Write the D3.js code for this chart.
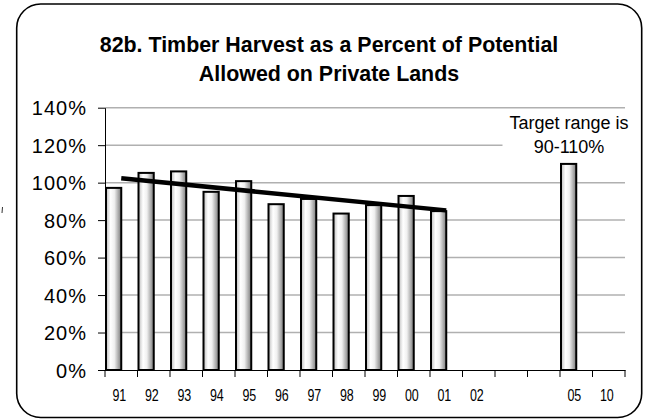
<!DOCTYPE html>
<html>
<head>
<meta charset="utf-8">
<script src="https://cdn.jsdelivr.net/npm/d3@7"></script>
<style>
  html, body { margin: 0; padding: 0; background: #fff; }
  svg { display: block; font-family: "Liberation Sans", Arial, sans-serif; }
</style>
</head>
<body>
<svg id="chart" width="646" height="420"></svg>
<script>
// ---- data ----
const categories = ["91","92","93","94","95","96","97","98","99","00","01","02","03","04","05","10"];
const categoryLabels = ["91","92","93","94","95","96","97","98","99","00","01","02","","","05","10"];
const harvestPercent = [97.2,105.2,106,95.1,100.8,88.5,91.3,83.5,88,92.9,84.8,null,null,null,110,null];
const trendCategories = ["91","01"];
const trendValues = [102.3, 85.2];
const yTicks = [0,20,40,60,80,100,120,140];
const titleLines = ["82b. Timber Harvest as a Percent of Potential","Allowed on Private Lands"];
const noteLines = ["Target range is","90-110%"];

(function () {
const svg = d3.select("#chart");
const plotLeft = 105, plotRight = 625, plotTop = 107.7, plotBottom = 370;

const x = d3.scaleBand().domain(categories).range([plotLeft, plotRight]).padding(0);
const y = d3.scaleLinear().domain([0, 140]).range([plotBottom, plotTop]);

// gradient
const defs = svg.append("defs");
const g = defs.append("linearGradient").attr("id","barGrad").attr("x1","0%").attr("x2","100%").attr("y1","0%").attr("y2","0%");
[["0%","#bdbdbd"],["30%","#ffffff"],["55%","#f0f0f0"],["100%","#7a7a7a"]].forEach(([o,c]) => g.append("stop").attr("offset",o).attr("stop-color",c));

// frame
svg.append("rect").attr("x",16.7).attr("y",4).attr("width",625).attr("height",413.5)
  .attr("rx",24).attr("ry",24).attr("fill","#fff").attr("stroke","#000").attr("stroke-width",1.6);
svg.append("line").attr("x1",2.5).attr("x2",2).attr("y1",207).attr("y2",213).attr("stroke","#333").attr("stroke-width",1);

// title
svg.append("g").selectAll("text").data(titleLines).join("text")
  .attr("x", 329).attr("y", (d,i) => 52 + i*28.7)
  .attr("text-anchor","middle").attr("font-weight","bold").style("font-size","21.4px").attr("fill","#000")
  .text(d => d);

// gridlines
svg.append("g").selectAll("line").data(yTicks.filter(d => d > 0)).join("line")
  .attr("x1", plotLeft).attr("x2", plotRight).attr("y1", d => y(d)).attr("y2", d => y(d))
  .attr("stroke","#b0b0b0").attr("stroke-width",1.5);

// y axis
const yAxis = svg.append("g").attr("transform",`translate(${plotLeft},0)`)
  .call(d3.axisLeft(y).tickValues(yTicks).tickFormat(d => d + "%").tickSize(7).tickSizeOuter(0));
yAxis.select(".domain").attr("stroke","#000").attr("stroke-width",1);
yAxis.selectAll(".tick line").attr("stroke","#000");
yAxis.selectAll(".tick text").style("font-size","20px").attr("font-family","Liberation Sans, Arial, sans-serif")
  .attr("fill","#000").attr("x",-18).attr("dy","0.36em").attr("letter-spacing","1px");

// bars (left half of each slot; second series empty)
svg.append("g").selectAll("rect")
  .data(categories.map((c,i) => ({c, v: harvestPercent[i]})).filter(d => d.v != null))
  .join("rect")
  .attr("x", d => x(d.c) + 1)
  .attr("y", d => y(d.v))
  .attr("width", x.bandwidth()/2 - 1)
  .attr("height", d => y(0) - y(d.v))
  .attr("fill","url(#barGrad)").attr("stroke","#000").attr("stroke-width",2);

// x axis
const xAxis = svg.append("g").attr("transform",`translate(0,${plotBottom})`)
  .call(d3.axisBottom(x).tickSize(0).tickSizeOuter(0).tickFormat((d,i) => categoryLabels[i]));
xAxis.select(".domain").attr("stroke","#000").attr("stroke-width",1.2);
xAxis.selectAll(".tick text").style("font-size","16px").attr("font-family","Liberation Sans, Arial, sans-serif")
  .attr("fill","#000").attr("y",20).attr("dx","-2.5px").attr("transform","scale(0.78,1)");
// boundary tick marks
const bounds = categories.map(c => x(c)).concat([x(categories[categories.length-1]) + x.bandwidth()]);
svg.append("g").selectAll("line").data(bounds).join("line")
  .attr("x1", d => d).attr("x2", d => d).attr("y1", plotBottom).attr("y2", plotBottom + 7)
  .attr("stroke","#000").attr("stroke-width",1);

// trend line
const line = d3.line().x(d => x(d.c) + x.bandwidth()/2).y(d => y(d.v));
svg.append("path")
  .datum(trendCategories.map((c,i) => ({c, v: trendValues[i]})))
  .attr("d", line).attr("fill","none").attr("stroke","#000").attr("stroke-width",4.5).attr("stroke-linecap","butt");

// annotation box
svg.append("rect").attr("x",502.5).attr("y",113).attr("width",132).attr("height",46).attr("fill","#fff");
svg.append("g").selectAll("text").data(noteLines).join("text")
  .attr("x", 569).attr("y", (d,i) => 129.3 + i*23.4)
  .attr("text-anchor","middle").style("font-size","18px").attr("fill","#000")
  .text(d => d);
})();
</script>
</body>
</html>
